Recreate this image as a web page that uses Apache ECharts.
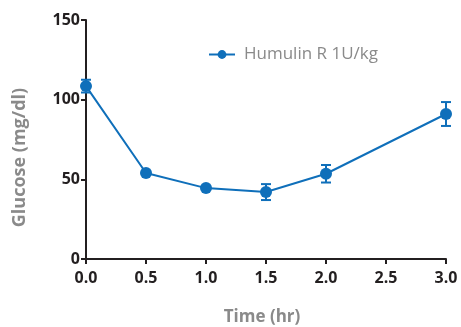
<!DOCTYPE html>
<html><head><meta charset="utf-8">
<script src="https://cdn.jsdelivr.net/npm/echarts@6/dist/echarts.min.js"></script>
<style>html,body{margin:0;padding:0;background:#fff}#c{width:461px;height:327px}</style>
</head><body><div id="c"></div>
<script>
var times = [0, 0.5, 1.0, 1.5, 2.0, 3.0];
var glucose = [108.5, 54, 44.5, 42, 53.5, 91];
var errors = [4, 1, 1, 5, 5.5, 7.5];
var xTicks = [0, 0.5, 1.0, 1.5, 2.0, 2.5, 3.0];
var yTicks = [0, 50, 100, 150];
var seriesName = 'Humulin R 1U/kg';

var blue = '#0f6fba';
var dark = '#231f20';
var gray = '#8a8a8a';
var font = 'Open Sans';

var lineData = times.map(function(t, i){ return [t, glucose[i]]; });
var errData = times.map(function(t, i){ return [t, glucose[i] - errors[i], glucose[i] + errors[i]]; });

var chart = echarts.init(document.getElementById('c'), null, {renderer: 'canvas'});
chart.setOption({
  animation: false,
  backgroundColor: '#fff',
  grid: {left: 86, right: 15, top: 20, bottom: 68, containLabel: false, outerBoundsMode: 'none'},
  legend: {
    top: 41, left: 203,
    itemWidth: 26, itemHeight: 11,
    textStyle: {color: gray, fontSize: 17, fontFamily: font, padding: [0, 0, 0, 4]},
    data: [seriesName]
  },
  xAxis: {
    type: 'value', min: 0, max: 3, interval: 0.5,
    name: 'Time (hr)', nameLocation: 'middle', nameGap: 50,
    nameTextStyle: {color: gray, fontSize: 17, fontWeight: 'bold', fontFamily: font, padding: [0, 8, 0, 0]},
    axisLine: {lineStyle: {color: dark, width: 2}},
    axisTick: {show: true, length: 5, lineStyle: {color: dark, width: 2}},
    axisLabel: {color: dark, fontSize: 16, fontWeight: 'bold', fontFamily: font, margin: 11,
      formatter: function(v){ return v.toFixed(1); }},
    splitLine: {show: false}
  },
  yAxis: {
    type: 'value', min: 0, max: 150, interval: 50,
    name: 'Glucose (mg/dl)', nameLocation: 'middle', nameGap: 57,
    nameTextStyle: {color: gray, fontSize: 18, fontWeight: 'bold', fontFamily: font, padding: [0, 36, 0, 0]},
    axisLine: {show: true, lineStyle: {color: dark, width: 2}},
    axisTick: {show: true, length: 5, lineStyle: {color: dark, width: 2}},
    axisLabel: {color: dark, fontSize: 16, fontWeight: 'bold', fontFamily: font, margin: 6},
    splitLine: {show: false}
  },
  series: [
    {
      type: 'custom', name: 'err', silent: true, z: 1,
      renderItem: function(params, api){
        var x = api.value(0);
        var lo = api.coord([x, api.value(1)]);
        var hi = api.coord([x, api.value(2)]);
        var hw = 5;
        var st = {stroke: blue, lineWidth: 2};
        return {type: 'group', children: [
          {type: 'line', shape: {x1: lo[0], y1: lo[1], x2: hi[0], y2: hi[1]}, style: st},
          {type: 'line', shape: {x1: lo[0]-hw, y1: lo[1], x2: lo[0]+hw, y2: lo[1]}, style: st},
          {type: 'line', shape: {x1: hi[0]-hw, y1: hi[1], x2: hi[0]+hw, y2: hi[1]}, style: st}
        ]};
      },
      encode: {x: 0, y: [1, 2]},
      data: errData
    },
    {
      type: 'line', name: seriesName, z: 2,
      data: lineData,
      symbol: 'circle', symbolSize: 12,
      itemStyle: {color: blue},
      lineStyle: {color: blue, width: 2}
    }
  ]
});
</script></body></html>
